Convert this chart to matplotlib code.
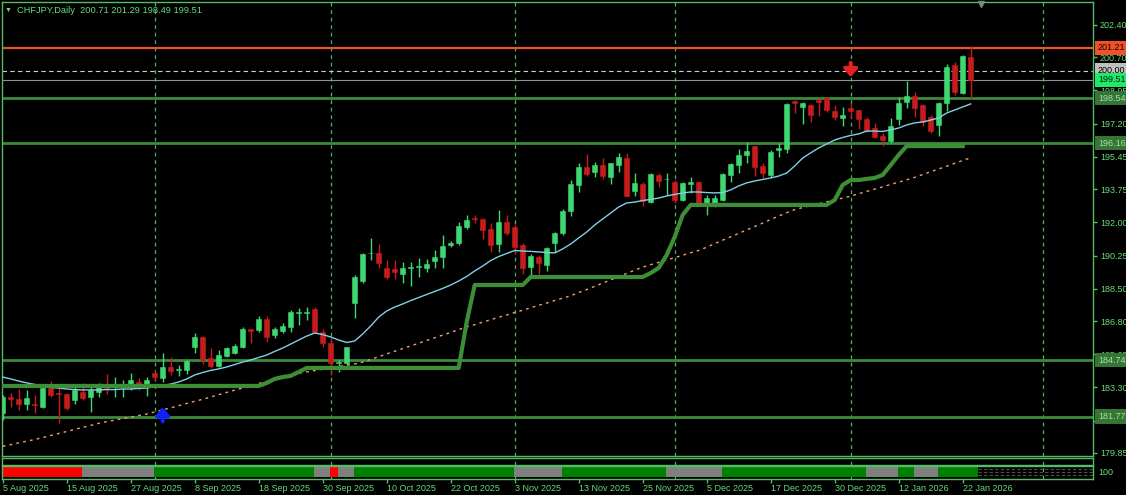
import numpy as np
import matplotlib
matplotlib.use('Agg')
import matplotlib.pyplot as plt

plt.rcParams['font.family'] = ['Liberation Sans', 'DejaVu Sans']

# --- data (CHFJPY daily, 5 Aug 2025 .. 23 Jan 2026) ---
symbol = 'CHFJPY,Daily'
last_ohlc = '200.71 201.29 198.49 199.51'

opens = [181.96, 182.80, 182.69, 182.43, 182.43, 182.27, 183.27, 183.01, 182.96, 182.64,
         183.06, 182.80, 183.06, 183.48, 183.33, 183.33, 183.33, 183.59, 183.33, 184.06,
         183.80, 184.38, 184.22, 184.22, 185.43, 185.96, 184.85, 184.43, 184.96, 185.12,
         185.43, 186.38, 186.33, 186.91, 186.07, 186.28, 186.49, 187.25, 187.25, 187.44,
         186.22, 185.65, 184.59, 184.59, 187.75, 188.91, 190.36, 190.39, 189.60, 189.54,
         189.28, 189.60, 189.65, 189.60, 189.97, 190.18, 190.81, 190.91, 191.76, 192.23,
         192.18, 191.65, 190.86, 192.02, 191.76, 190.81, 189.65, 190.18, 189.75, 190.91,
         191.44, 192.60, 193.97, 194.92, 194.65, 195.02, 194.39, 195.02, 195.39, 193.65,
         194.02, 193.07, 194.50, 194.26, 194.13, 193.18, 194.02, 194.13, 193.02, 192.97,
         193.18, 194.50, 195.02, 195.55, 196.02, 194.97, 194.50, 195.81, 195.87, 198.40,
         198.08, 198.18, 198.45, 198.55, 197.87, 197.50, 198.03, 197.92, 197.45, 196.97,
         196.55, 196.29, 197.45, 198.34, 198.66, 198.18, 197.55, 197.13, 198.29, 200.29,
         198.82, 200.71]
highs = [182.90, 183.01, 183.22, 183.17, 182.90, 183.33, 183.64, 183.27, 183.01, 183.33,
         183.54, 183.33, 183.54, 184.01, 183.85, 183.70, 184.06, 183.80, 183.85, 184.17,
         185.12, 184.91, 184.49, 184.75, 186.17, 186.01, 185.38, 185.28, 185.43, 185.59,
         186.49, 186.38, 187.07, 187.07, 186.49, 186.70, 187.38, 187.49, 187.54, 187.54,
         186.38, 185.91, 184.75, 185.43, 189.23, 190.39, 191.18, 190.86, 190.02, 190.02,
         189.91, 189.91, 190.12, 190.07, 190.55, 191.34, 191.02, 192.02, 192.39, 192.39,
         192.23, 191.97, 192.65, 192.39, 191.91, 190.91, 190.33, 190.28, 190.70, 191.49,
         192.71, 194.23, 195.13, 195.60, 195.18, 195.39, 195.13, 195.66, 195.66, 194.60,
         194.13, 194.60, 194.60, 194.60, 194.23, 194.13, 194.39, 194.18, 193.44, 193.44,
         194.60, 195.13, 195.87, 196.24, 196.02, 195.13, 195.81, 196.18, 198.29, 198.45,
         198.34, 198.24, 198.50, 198.61, 198.18, 198.08, 198.29, 197.92, 197.55, 197.24,
         196.71, 197.50, 198.61, 199.45, 198.87, 198.24, 197.66, 198.34, 200.35, 200.45,
         200.82, 201.29]
lows = [181.59, 182.27, 182.11, 182.11, 181.96, 182.22, 182.80, 181.43, 182.11, 182.43,
        182.64, 182.01, 182.80, 182.96, 182.80, 182.80, 183.17, 183.17, 182.85, 183.70,
        183.59, 183.96, 183.91, 184.01, 185.12, 184.54, 184.33, 184.38, 184.91, 185.07,
        185.38, 185.65, 186.22, 185.70, 185.91, 186.17, 186.22, 186.59, 186.86, 186.17,
        185.43, 183.96, 184.12, 184.49, 186.96, 188.81, 190.02, 189.60, 189.02, 189.02,
        188.81, 188.65, 189.12, 189.39, 189.60, 189.60, 190.70, 190.81, 191.65, 191.95,
        191.12, 190.44, 190.44, 191.34, 190.33, 189.28, 189.12, 189.28, 189.44, 190.44,
        191.34, 192.34, 193.60, 194.44, 194.39, 194.29, 194.02, 194.65, 193.39, 193.39,
        192.86, 193.02, 193.86, 193.44, 193.02, 193.13, 193.55, 192.92, 192.39, 192.81,
        193.13, 194.13, 194.60, 195.13, 194.44, 194.34, 194.39, 195.45, 195.66, 197.76,
        197.18, 197.29, 197.61, 197.82, 197.39, 197.08, 197.50, 196.92, 196.76, 196.45,
        196.02, 196.18, 197.13, 198.03, 197.55, 197.08, 196.71, 196.55, 197.87, 198.71,
        198.76, 198.49]
closes = [182.80, 182.69, 182.43, 182.75, 182.38, 183.27, 182.90, 182.96, 182.22, 183.17,
          182.75, 183.17, 183.43, 183.27, 183.35, 183.35, 183.70, 183.33, 183.70, 183.85,
          184.38, 184.17, 184.25, 184.70, 185.96, 184.75, 184.43, 185.01, 185.38, 185.49,
          186.38, 186.28, 186.91, 185.96, 186.38, 186.54, 187.28, 187.28, 187.28, 186.22,
          185.65, 184.59, 184.62, 185.43, 189.12, 190.33, 190.39, 189.86, 189.12, 189.39,
          189.60, 189.62, 189.68, 189.81, 190.18, 190.76, 190.91, 191.81, 192.13, 192.18,
          191.60, 190.81, 192.02, 191.44, 190.70, 189.60, 190.23, 189.86, 190.65, 191.44,
          192.60, 194.02, 194.92, 194.55, 195.02, 194.44, 195.13, 195.44, 193.39, 194.07,
          193.13, 194.55, 194.18, 194.29, 193.18, 194.07, 194.13, 193.02, 193.28, 193.28,
          194.55, 195.08, 195.55, 195.76, 194.92, 194.60, 195.71, 195.92, 198.24, 198.29,
          198.29, 197.66, 198.34, 197.92, 197.55, 197.66, 197.87, 197.45, 196.81, 196.50,
          196.34, 197.08, 198.29, 198.66, 198.03, 197.29, 196.81, 198.29, 200.19, 198.87,
          200.77, 199.51]

# light blue moving average
ma_fast = [183.85, 183.75, 183.64, 183.54, 183.46, 183.38, 183.30, 183.27, 183.22, 183.19,
           183.17, 183.17, 183.17, 183.19, 183.19, 183.22, 183.22, 183.25, 183.27, 183.35,
           183.41, 183.48, 183.59, 183.75, 183.96, 184.09, 184.20, 184.28, 184.38, 184.51,
           184.64, 184.75, 184.88, 185.01, 185.20, 185.38, 185.59, 185.80, 186.01, 186.17,
           186.09, 185.96, 185.80, 185.67, 185.75, 186.12, 186.54, 187.01, 187.33, 187.54,
           187.70, 187.88, 188.04, 188.20, 188.36, 188.52, 188.70, 188.91, 189.15, 189.44,
           189.70, 189.99, 190.20, 190.36, 190.52, 190.49, 190.47, 190.44, 190.41, 190.39,
           190.60, 190.86, 191.18, 191.49, 191.86, 192.18, 192.49, 192.81, 193.02, 193.07,
           193.15, 193.21, 193.28, 193.39, 193.47, 193.55, 193.60, 193.60, 193.57, 193.55,
           193.57, 193.71, 193.92, 194.08, 194.18, 194.26, 194.34, 194.44, 194.60, 194.97,
           195.39, 195.66, 195.92, 196.13, 196.34, 196.47, 196.58, 196.66, 196.81, 196.81,
           196.79, 196.87, 196.97, 197.13, 197.24, 197.29, 197.39, 197.50, 197.76, 197.92,
           198.08, 198.24]

# orange dotted slow moving average
ma_slow = [180.20, 180.29, 180.38, 180.47, 180.56, 180.66, 180.77, 180.88, 180.98, 181.09,
           181.20, 181.30, 181.41, 181.50, 181.58, 181.66, 181.74, 181.82, 181.90, 182.01,
           182.12, 182.23, 182.34, 182.46, 182.57, 182.68, 182.80, 182.92, 183.04, 183.16,
           183.27, 183.40, 183.51, 183.62, 183.73, 183.83, 183.94, 184.05, 184.12, 184.19,
           184.26, 184.33, 184.40, 184.48, 184.54, 184.64, 184.78, 184.92, 185.07, 185.21,
           185.35, 185.49, 185.63, 185.78, 185.92, 186.06, 186.20, 186.35, 186.49, 186.61,
           186.74, 186.87, 187.00, 187.12, 187.25, 187.37, 187.50, 187.63, 187.75, 187.88,
           188.01, 188.13, 188.30, 188.46, 188.63, 188.80, 188.97, 189.14, 189.31, 189.48,
           189.64, 189.77, 189.89, 190.02, 190.14, 190.27, 190.40, 190.52, 190.69, 190.88,
           191.06, 191.24, 191.42, 191.60, 191.78, 191.96, 192.15, 192.33, 192.51, 192.67,
           192.78, 192.88, 192.98, 193.08, 193.18, 193.28, 193.38, 193.51, 193.63, 193.75,
           193.87, 194.00, 194.12, 194.24, 194.37, 194.52, 194.67, 194.81, 194.96, 195.11,
           195.26, 195.40]

# thick green trailing stop (ends one bar before the last candle)
stop_line = [183.38, 183.38, 183.38, 183.38, 183.38, 183.38, 183.38, 183.38, 183.38, 183.38,
             183.38, 183.38, 183.38, 183.38, 183.38, 183.38, 183.38, 183.38, 183.38, 183.38,
             183.38, 183.38, 183.38, 183.38, 183.38, 183.38, 183.38, 183.38, 183.38, 183.38,
             183.38, 183.38, 183.38, 183.54, 183.75, 183.85, 183.91, 184.12, 184.33, 184.33,
             184.33, 184.33, 184.33, 184.33, 184.33, 184.33, 184.33, 184.33, 184.33, 184.33,
             184.33, 184.33, 184.33, 184.33, 184.33, 184.33, 184.33, 184.33, 186.75, 188.70,
             188.70, 188.70, 188.70, 188.70, 188.70, 188.70, 189.12, 189.12, 189.12, 189.12,
             189.12, 189.12, 189.12, 189.12, 189.12, 189.12, 189.12, 189.12, 189.12, 189.12,
             189.12, 189.33, 189.60, 190.28, 191.23, 192.39, 192.92, 192.92, 192.92, 192.92,
             192.92, 192.92, 192.92, 192.92, 192.92, 192.92, 192.92, 192.92, 192.92, 192.92,
             192.92, 192.92, 192.92, 192.92, 193.18, 193.97, 194.23, 194.23, 194.29, 194.34,
             194.50, 195.02, 195.55, 196.02, 196.02, 196.02, 196.02, 196.02, 196.02, 196.02,
             196.02]

# date labels every 8 bars
date_labels = ['5 Aug 2025', '15 Aug 2025', '27 Aug 2025', '8 Sep 2025', '18 Sep 2025',
               '30 Sep 2025', '10 Oct 2025', '22 Oct 2025', '3 Nov 2025', '13 Nov 2025',
               '25 Nov 2025', '5 Dec 2025', '17 Dec 2025', '30 Dec 2025', '12 Jan 2026',
               '22 Jan 2026']
price_ticks = [202.40, 200.70, 198.95, 197.20, 195.45, 193.75, 192.00, 190.25,
               188.50, 186.80, 185.05, 183.30, 181.55, 179.85]

# month separators (bar index of first trading day)
grid_bars = [19, 41, 64, 84, 106, 130]

support_levels = [198.54, 196.16, 184.74, 181.77]
resistance_level = 201.21
round_level = 200.00
bid_price = 199.51

buy_bar, buy_price = 20, 182.25
sell_bar, sell_price = 106, 199.66

# bottom signal strip as (state, number of bars)
strip_runs = [('red', 10), ('gray', 9), ('green', 20), ('gray', 2), ('red', 1), ('gray', 2),
              ('green', 20), ('gray', 6), ('green', 13), ('gray', 7), ('green', 18),
              ('gray', 4), ('green', 2), ('gray', 3), ('green', 5)]

# --- style ---
BG = 'black'
FG = '#66dd77'
FRAME = '#55bb66'
GRID = '#55b060'
BULL = '#3fd870'
BEAR = '#c81c1c'
LEVEL_GREEN = '#3c8a3c'
strip_colors = {'red': '#ff0000', 'gray': '#808080', 'green': '#008000'}

W, H = 1126, 495
fig = plt.figure(figsize=(W / 100, H / 100), dpi=100)
fig.patch.set_facecolor(BG)


def px_axes(x0, y0, x1, y1):
    # axes from pixel box (top-left origin)
    return fig.add_axes([x0 / W, 1 - y1 / H, (x1 - x0) / W, (y1 - y0) / H])


ax = px_axes(2, 2, 1093, 456)
ax_sub1 = px_axes(2, 458, 1093, 464.5)
ax_sub2 = px_axes(2, 466, 1093, 478.5)

xmin, xmax = -0.09, 136.29
for a in (ax, ax_sub1, ax_sub2):
    a.set_facecolor(BG)
    a.set_xlim(xmin, xmax)
    for s in a.spines.values():
        s.set_color(FRAME)
        s.set_linewidth(1)
    for gb in grid_bars:
        a.axvline(gb, color=GRID, lw=0.9, ls=(0, (3, 3)), zorder=0.5)

ax.set_ylim(179.69, 203.61)

# candles
n = len(opens)
x = np.arange(n)
o = np.array(opens)
c = np.array(closes)
colors = [BULL if cc >= oo else BEAR for oo, cc in zip(o, c)]
ax.vlines(x, lows, highs, colors=colors, lw=1, zorder=2)
ax.bar(x, np.maximum(np.abs(c - o), 0.045), bottom=np.minimum(o, c), width=0.6,
       color=colors, edgecolor=colors, linewidth=0.4, zorder=2)

# indicator lines
ax.plot(np.arange(len(ma_slow)), ma_slow, color='#f0a070', lw=1, ls=(0, (2, 3)), zorder=3)
ax.plot(np.arange(len(ma_fast)), ma_fast, color='#80d0e8', lw=1, zorder=3)
ax.plot(np.arange(len(stop_line)), stop_line, color='#3d8f35', lw=3, zorder=3,
        solid_joinstyle='round')

# horizontal levels
for lv in support_levels:
    ax.axhline(lv, color=LEVEL_GREEN, lw=2, zorder=1.5)
ax.axhline(resistance_level, color='#f0502a', lw=1.6, zorder=1.5)
ax.axhline(round_level, color='#d0d0d0', lw=0.8, ls=(0, (4, 3)), zorder=1.5)
ax.axhline(bid_price, color='#909090', lw=0.8, zorder=1.5)

# signal arrows
arrow_len = 0.75
arrow_kw = dict(arrowstyle='-|>,head_width=0.4,head_length=0.45', lw=2.8,
                shrinkA=0, shrinkB=0, mutation_scale=10)
ax.annotate('', xy=(buy_bar, buy_price), xytext=(buy_bar, buy_price - arrow_len),
            arrowprops=dict(color='#1020ff', **arrow_kw), zorder=4)
ax.annotate('', xy=(sell_bar, sell_price), xytext=(sell_bar, sell_price + arrow_len),
            arrowprops=dict(color='#e82020', **arrow_kw), zorder=4)

# right price scale
ax.yaxis.tick_right()
ax.set_yticks(price_ticks)
ax.set_yticklabels(['%.2f' % p for p in price_ticks])
ax.tick_params(axis='y', length=3, width=1, pad=2, labelsize=6.5, colors=FRAME,
               labelcolor=FG)
ax.tick_params(axis='x', bottom=False, labelbottom=False)

# coloured price tags on the scale
trans = ax.get_yaxis_transform()
tag_x = (1098 - 2) / 1091
tags = [(resistance_level, '#f0502a', '#1a0500'),
        (round_level, '#c0c0c0', 'black'),
        (bid_price, '#20e868', '#002a10'),
        ] + [(lv, '#357535', '#a8e0a8') for lv in support_levels]
for price, bg, tc in tags:
    ax.text(tag_x, price, '%.2f' % price, transform=trans, ha='left', va='center',
            fontsize=6.5, color=tc, zorder=6,
            bbox=dict(boxstyle='square,pad=0.28', fc=bg, ec='none'))

# chart-shift marker at top
ax.plot([(981 - 2) / 1091], [0.996], marker='v', ms=5, color='#6f8f79',
        transform=ax.transAxes, clip_on=False, zorder=6)

# sub windows
ax_sub1.set_yticks([])
ax_sub1.tick_params(axis='x', bottom=False, labelbottom=False)

states = [s for s, k in strip_runs for _ in range(k)]
ax_sub2.bar(np.arange(len(states)) + 0.41, 1.0, width=1.0, bottom=0,
            color=[strip_colors[s] for s in states], zorder=1)
ax_sub2.set_ylim(-0.12, 1.1)
ax_sub2.hlines([0.2, 0.5, 0.8], len(states) - 0.09, xmax, colors='#505050', lw=0.8,
               linestyles=(0, (3, 2)), zorder=1)
ax_sub2.set_yticks([])
ax_sub2.set_xticks(np.arange(0, len(date_labels) * 8, 8))
ax_sub2.set_xticklabels(date_labels)
ax_sub2.tick_params(axis='x', length=3, width=1, pad=1, labelsize=6.5, colors=FRAME,
                    labelcolor=FG)
for t in ax_sub2.get_xticklabels():
    t.set_ha('left')
ax_sub2.text(tag_x, 0.5, '100', transform=ax_sub2.transAxes, ha='left', va='center',
             fontsize=6.5, color=FG)

# header
fig.text(5 / W, 1 - 10.5 / H, '\u25bc', fontsize=5, color=FG, va='center', ha='left')
fig.text(17 / W, 1 - 10.5 / H, symbol + '  ' + last_ohlc, fontsize=6.7, color=FG,
         va='center', ha='left')

fig.savefig('out.png', dpi=100, facecolor=BG)
